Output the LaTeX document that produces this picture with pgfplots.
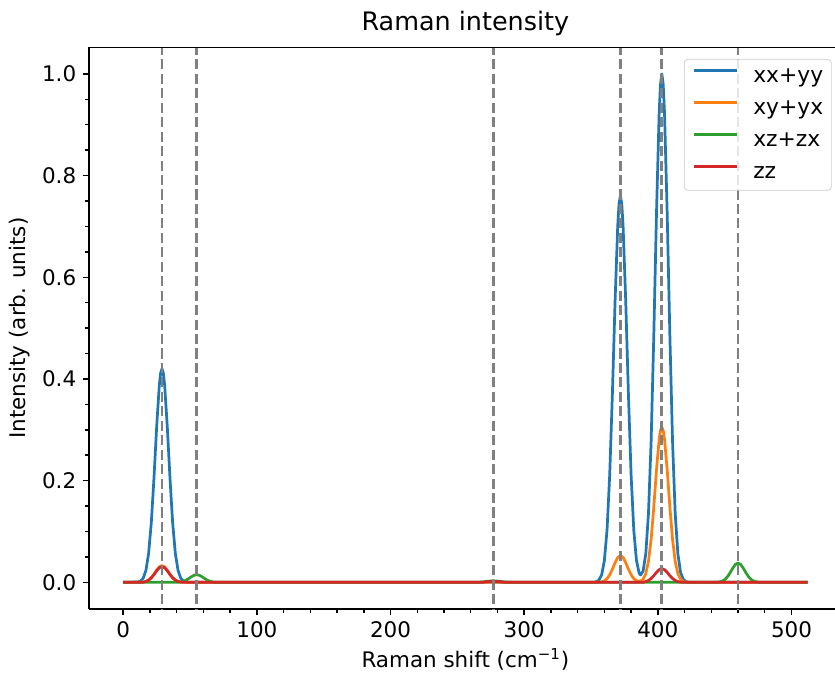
\documentclass[border=0pt]{standalone}
\usepackage{fontspec}
\setmainfont{DejaVu Sans}
\usepackage{pgfplots}
\pgfplotsset{compat=1.18}
\definecolor{mplblue}{HTML}{1F77B4}
\definecolor{mplorange}{HTML}{FF7F0E}
\definecolor{mplgreen}{HTML}{2CA02C}
\definecolor{mplred}{HTML}{D62728}
\definecolor{vgray}{HTML}{808080}
\begin{document}
\begin{tikzpicture}
\begin{axis}[
    scale only axis,
    width=414pt, height=309pt,
    xmin=-25.6, xmax=537.6,
    ymin=-0.0525, ymax=1.0525,
    axis lines*=left,
    axis line style={-, line width=0.8pt},
    xtick={0,100,...,500},
    ytick={0,0.2,...,1.0},
    minor x tick num=4,
    minor y tick num=3,
    tick align=outside,
    major tick length=3.5pt,
    minor tick length=2pt,
    every tick/.style={black, line width=0.8pt},
    tick label style={font=\fontsize{11.8}{14}\selectfont},
    yticklabel style={/pgf/number format/.cd, fixed, fixed zerofill, precision=1},
    /pgf/number format/assume math mode=true,
    title={Raman intensity},
    title style={font=\fontsize{14}{17}\selectfont, at={(0.5,1)}, anchor=base, yshift=3pt},
    xlabel={Raman shift (cm\textsuperscript{−1})},
    ylabel={Intensity (arb. units)},
    label style={font=\fontsize{11.8}{14}\selectfont},
    xlabel style={at={(axis description cs:0.5,0)}, anchor=base, yshift=-31.9pt},
    ylabel style={at={(axis description cs:-0.0918,0.5)}, anchor=center},
    legend cell align=left,
    legend style={at={(1,1)}, anchor=north east, xshift=-5.5pt, yshift=-6.5pt,
        draw=black!20, rounded corners=2pt, fill=white, fill opacity=0.8, text opacity=1,
        inner xsep=4.5pt, inner ysep=3.8pt, row sep=6pt, column sep=8pt,
        nodes={inner sep=0pt, text height=9pt, text depth=2.6pt, font=\fontsize{12}{14}\selectfont}},
    legend image code/.code={\draw[#1, line width=1.5pt] (0pt,3.5pt) -- (24pt,3.5pt);},
    every axis plot/.append style={line width=1.5pt, line join=round},
]
\addplot[mplblue] coordinates {
(0,0)(11,0.0006)(13,0.0025)(15,0.0083)(17,0.0236)(19,0.0568)(21,0.1168)(23,0.2045)(25,0.3050)(27,0.3877)(28,0.4117)(29,0.42)(30,0.4117)(31,0.3877)(33,0.3050)(35,0.2045)(37,0.1168)(39,0.0568)(41,0.0236)(43,0.0083)(45,0.0025)(47,0.0006)(49,0)
(352,0)(354,0.0011)(356,0.0046)(358,0.0150)(360,0.0426)(362,0.1028)(364,0.2113)(366,0.3700)(368,0.5518)(370,0.7016)(371,0.745)(372,0.76)(373,0.745)(374,0.7016)(376,0.5518)(378,0.3700)(380,0.2113)(382,0.1030)(384,0.0433)(386,0.0181)(387,0.0144)(389,0.0222)(391,0.0566)(393,0.1354)(395,0.2780)(397,0.4868)(399,0.7261)(401,0.9231)(402,0.9802)(403,1.0)(404,0.9802)(405,0.9231)(407,0.7261)(409,0.4868)(411,0.2780)(413,0.1353)(415,0.0561)(417,0.0198)(419,0.0060)(421,0.0015)(423,0.0003)(425,0)(512,0)
};
\addlegendentry{xx+yy}
\addplot[mplorange] coordinates {
(0,0)(15,0.0004)(17,0.0019)(19,0.0045)(21,0.0092)(23,0.0161)(25,0.0240)(27,0.0305)(29,0.033)(31,0.0305)(33,0.0240)(35,0.0161)(37,0.0092)(39,0.0045)(41,0.0019)(43,0.0004)(45,0)
(354,0)(356,0.0003)(358,0.0010)(360,0.0030)(362,0.0072)(364,0.0147)(366,0.0258)(368,0.0385)(370,0.0489)(372,0.053)(374,0.0489)(376,0.0385)(378,0.0258)(380,0.0147)(382,0.0073)(384,0.0032)(386,0.0019)(387,0.0024)(389,0.0062)(391,0.0171)(393,0.0413)(395,0.0848)(397,0.1485)(399,0.2215)(401,0.2815)(402,0.2990)(403,0.305)(404,0.2990)(405,0.2815)(407,0.2215)(409,0.1485)(411,0.0848)(413,0.0413)(415,0.0171)(417,0.0060)(419,0.0018)(421,0.0005)(423,0)(512,0)
};
\addlegendentry{xy+yx}
\addplot[mplgreen] coordinates {
(0,0)(41,0)(43,0.0008)(45,0.0020)(47,0.0042)(49,0.0073)(51,0.0109)(53,0.0138)(55,0.015)(57,0.0138)(59,0.0109)(61,0.0073)(63,0.0042)(65,0.0020)(67,0.0008)(69,0)
(265,0)(269,0.0008)(273,0.0022)(277,0.003)(281,0.0022)(285,0.0008)(289,0)
(444,0)(446,0.0008)(448,0.0021)(450,0.0051)(452,0.0106)(454,0.0185)(456,0.0276)(458,0.0351)(460,0.038)(462,0.0351)(464,0.0276)(466,0.0185)(468,0.0106)(470,0.0051)(472,0.0021)(474,0.0008)(476,0)(512,0)
};
\addlegendentry{xz+zx}
\addplot[mplred] coordinates {
(0,0)(15,0.0003)(17,0.0017)(19,0.0042)(21,0.0086)(23,0.0151)(25,0.0225)(27,0.0286)(29,0.031)(31,0.0286)(33,0.0225)(35,0.0151)(37,0.0086)(39,0.0042)(41,0.0017)(43,0.0006)(45,0)
(269,0)(273,0.0015)(277,0.002)(281,0.0015)(285,0)
(389,0)(391,0.0015)(393,0.0037)(395,0.0075)(397,0.0131)(399,0.0196)(401,0.0249)(403,0.027)(405,0.0249)(407,0.0196)(409,0.0131)(411,0.0075)(413,0.0037)(415,0.0015)(417,0.0005)(419,0)(512,0)
};
\addlegendentry{zz}
% mode positions
\addplot[vgray, forget plot, dash pattern=on 5.55pt off 2.4pt] coordinates {(29,-0.1)(29,1.1)};
\addplot[vgray, forget plot, dash pattern=on 5.55pt off 2.4pt] coordinates {(55,-0.1)(55,1.1)};
\addplot[vgray, forget plot, dash pattern=on 5.55pt off 2.4pt] coordinates {(277,-0.1)(277,1.1)};
\addplot[vgray, forget plot, dash pattern=on 5.55pt off 2.4pt] coordinates {(372,-0.1)(372,1.1)};
\addplot[vgray, forget plot, dash pattern=on 5.55pt off 2.4pt] coordinates {(403,-0.1)(403,1.1)};
\addplot[vgray, forget plot, dash pattern=on 5.55pt off 2.4pt] coordinates {(460,-0.1)(460,1.1)};
\draw[line width=0.8pt] (rel axis cs:0,1) -- (rel axis cs:1,1);
\end{axis}
\pgfresetboundingbox
\path[use as bounding box] (current axis.south west) ++(-48.95pt,-35.2pt) rectangle ([xshift=410.3pt,yshift=334.95pt]current axis.south west);
\end{tikzpicture}
\end{document}
